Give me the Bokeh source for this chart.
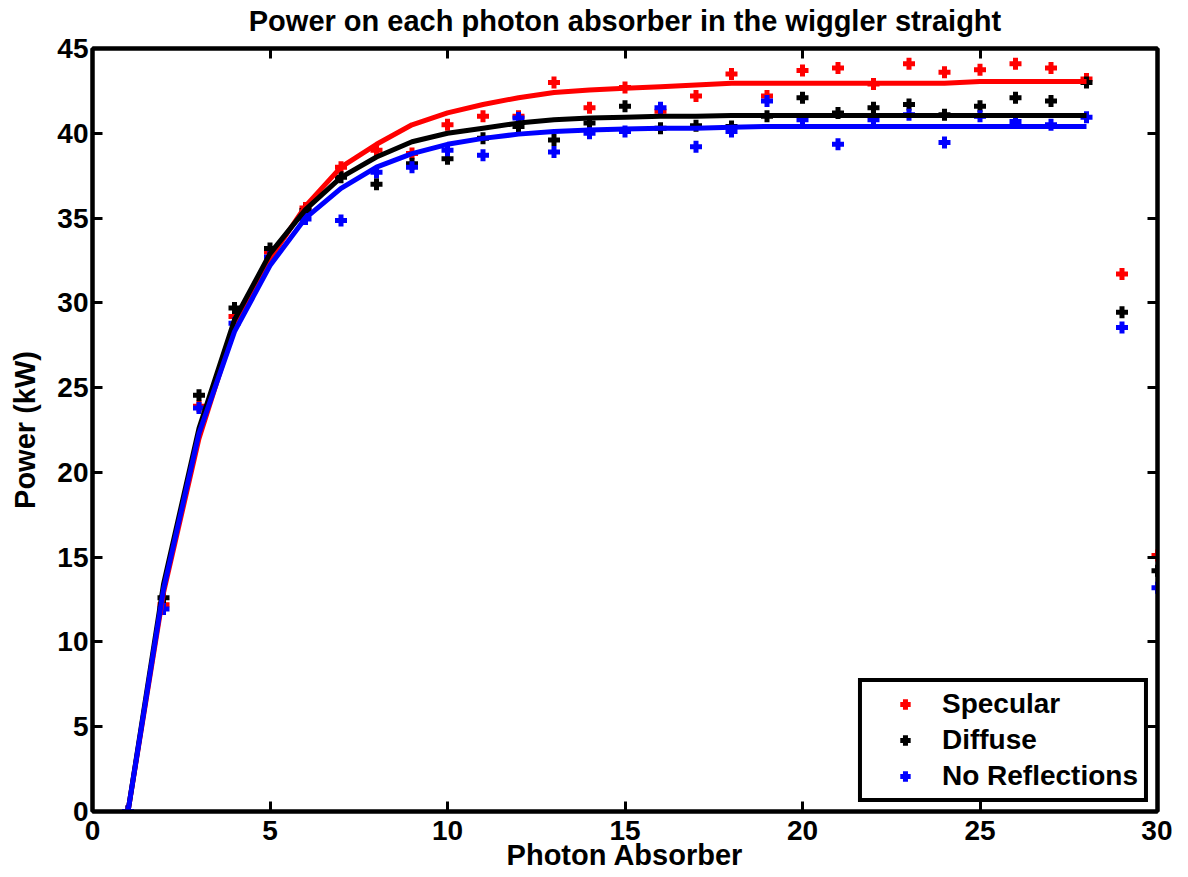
from bokeh.plotting import figure
from bokeh.models import LinearAxis, Legend, LegendItem, Range1d, FixedTicker, CustomLabelingPolicy
from bokeh.embed import file_html
from bokeh.resources import INLINE

# ---- data ----
title_text = "Power on each photon absorber in the wiggler straight"
x_label = "Photon Absorber"
y_label = "Power (kW)"
x_ticks = [0, 5, 10, 15, 20, 25, 30]
y_ticks = [0, 5, 10, 15, 20, 25, 30, 35, 40, 45]

absorber = list(range(1, 31))
specular_pts = [0.0, 12.2, 23.9, 29.2, 33.0, 35.6, 38.0, 39.0, 38.8, 40.5,
                41.0, 41.0, 43.0, 41.5, 42.7, 41.3, 42.2, 43.5, 42.2, 43.7,
                43.85, 42.9, 44.1, 43.6, 43.75, 44.1, 43.85, 43.2, 31.7, 15.1]
diffuse_pts = [0.0, 12.6, 24.55, 29.7, 33.2, 35.45, 37.4, 37.0, 38.2, 38.5,
               39.7, 40.4, 39.6, 40.6, 41.6, 40.3, 40.45, 40.4, 41.0, 42.1,
               41.2, 41.5, 41.7, 41.1, 41.6, 42.1, 41.9, 43.0, 29.45, 14.2]
noref_pts = [0.0, 11.95, 23.8, 28.8, 32.7, 34.95, 34.85, 37.7, 38.0, 39.0,
             38.7, 40.9, 38.9, 40.0, 40.1, 41.5, 39.2, 40.1, 41.9, 40.8,
             39.35, 40.8, 41.1, 39.45, 41.0, 40.7, 40.5, 40.95, 28.55, 13.2]

fit_x = list(range(1, 29))
specular_fit = [0.0, 12.9, 22.0, 28.6, 32.6, 35.7, 38.0, 39.35, 40.5, 41.2,
                41.7, 42.1, 42.4, 42.55, 42.65, 42.75, 42.85, 42.95, 42.95, 42.95,
                42.95, 42.95, 42.95, 42.95, 43.05, 43.05, 43.05, 43.05]
diffuse_fit = [0.0, 13.4, 22.6, 29.0, 32.9, 35.5, 37.4, 38.6, 39.5, 40.0,
               40.3, 40.6, 40.8, 40.9, 40.95, 41.0, 41.0, 41.05, 41.05, 41.05,
               41.05, 41.05, 41.05, 41.05, 41.05, 41.05, 41.05, 41.05]
noref_fit = [0.0, 13.1, 22.3, 28.3, 32.2, 35.0, 36.75, 38.0, 38.8, 39.35,
             39.7, 39.95, 40.1, 40.2, 40.25, 40.3, 40.3, 40.35, 40.4, 40.4,
             40.4, 40.4, 40.4, 40.4, 40.4, 40.4, 40.4, 40.4]

series_names = ["Specular", "Diffuse", "No Reflections"]
colors = ["#ff0000", "#000000", "#0000ff"]

FONT = "Liberation Sans"

p = figure(width=1172, height=873, x_range=Range1d(0, 30), y_range=Range1d(0, 45),
           output_backend="svg", toolbar_location=None,
           min_border_left=92, min_border_right=15, min_border_top=48, min_border_bottom=62)
p.background_fill_color = "white"
p.border_fill_color = "white"
p.outline_line_color = "black"
p.outline_line_width = 4
p.xgrid.visible = False
p.ygrid.visible = False

p.title.text = title_text
p.title.align = "center"
p.title.text_font = FONT
p.title.text_font_size = "29px"
p.title.text_font_style = "bold"
p.title.text_color = "black"
p.title.standoff = 2

def style_axis(ax, show_labels=True):
    ax.axis_line_width = 4
    ax.axis_line_color = "black"
    ax.major_tick_line_width = 3
    ax.major_tick_in = 10
    ax.major_tick_out = 0
    ax.minor_tick_line_color = None
    if show_labels:
        ax.major_label_text_font = FONT
        ax.major_label_text_font_size = "28px"
        ax.major_label_text_font_style = "bold"
        ax.major_label_text_color = "black"
    else:
        ax.major_label_policy = CustomLabelingPolicy(code="return new Set()")
        ax.major_label_standoff = 0

xa = p.xaxis[0]
ya = p.yaxis[0]
xa.ticker = FixedTicker(ticks=x_ticks)
ya.ticker = FixedTicker(ticks=y_ticks)
style_axis(xa)
style_axis(ya)
xa.major_label_standoff = 9
ya.major_label_standoff = 4
xa.axis_label = x_label
ya.axis_label = y_label
for ax in (xa, ya):
    ax.axis_label_text_font = FONT
    ax.axis_label_text_font_size = "29px"
    ax.axis_label_text_font_style = "bold"
    ax.axis_label_text_color = "black"
xa.major_label_text_line_height = 0.9
xa.axis_label_text_line_height = 0.9
xa.axis_label_standoff = -4
ya.axis_label_standoff = 13

top = LinearAxis(ticker=FixedTicker(ticks=x_ticks))
right = LinearAxis(ticker=FixedTicker(ticks=y_ticks))
style_axis(top, False)
style_axis(right, False)
p.add_layout(top, "above")
p.add_layout(right, "right")

pts = [specular_pts, diffuse_pts, noref_pts]
fits = [specular_fit, diffuse_fit, noref_fit]
point_renderers = []
for vals, c in zip(pts, colors):
    r = p.scatter(absorber, vals, marker="cross", size=12, line_width=5, line_color=c)
    point_renderers.append(r)
for vals, c in zip(fits, colors):
    p.line(fit_x, vals, line_width=5, line_color=c)

legend = Legend(items=[LegendItem(label=n, renderers=[r]) for n, r in zip(series_names, point_renderers)],
                location="bottom_right")
legend.margin = 9
legend.padding = 6
legend.spacing = 4
legend.glyph_width = 74
legend.glyph_height = 26
legend.label_height = 32
legend.label_standoff = 0
legend.label_text_font = FONT
legend.label_text_font_size = "28px"
legend.label_text_font_style = "bold"
legend.label_text_color = "black"
legend.border_line_color = "black"
legend.border_line_alpha = 1.0
legend.border_line_width = 4
legend.background_fill_color = "white"
legend.background_fill_alpha = 1.0
p.add_layout(legend, "center")

open("out.html", "w").write(file_html(p, INLINE))
